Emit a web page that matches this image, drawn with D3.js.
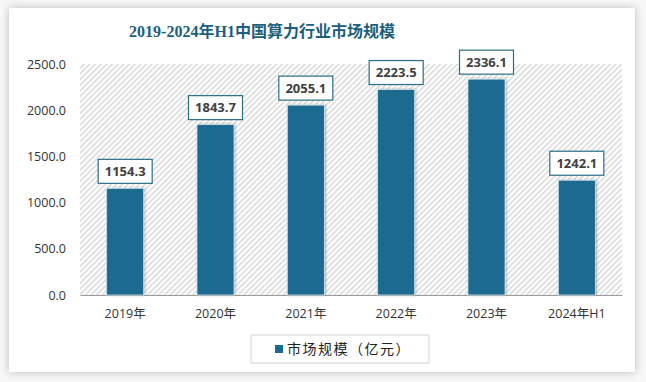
<!DOCTYPE html>
<html><head><meta charset="utf-8">
<script src="https://cdn.jsdelivr.net/npm/d3@7"></script>
<style>body{margin:0;background:#fff;}svg{display:block;}</style>
</head><body>
<script>
const categories = ["2019年","2020年","2021年","2022年","2023年","2024年H1"];
const values = [1154.3, 1843.7, 2055.1, 2223.5, 2336.1, 1242.1];
const yTicks = [0, 500, 1000, 1500, 2000, 2500];
const title = "2019-2024年H1中国算力行业市场规模";
const seriesName = "市场规模（亿元）";

const W = 646, H = 382;
const svg = d3.select("body").append("svg").attr("width", W).attr("height", H);
const defs = svg.append("defs");

// outer shadowed frame
const f = defs.append("filter").attr("id","sh").attr("x","-5%").attr("y","-5%").attr("width","110%").attr("height","110%");
f.append("feGaussianBlur").attr("in","SourceAlpha").attr("stdDeviation",4);
f.append("feComponentTransfer").append("feFuncA").attr("type","linear").attr("slope",0.25);
const fm = f.append("feMerge"); fm.append("feMergeNode"); fm.append("feMergeNode").attr("in","SourceGraphic");
svg.append("rect").attr("x",0).attr("y",0).attr("width",W).attr("height",H).attr("fill","#f7f7f7");
svg.append("rect").attr("x",9).attr("y",8).attr("width",626).attr("height",364).attr("fill","#fff").attr("filter","url(#sh)");

// hatch pattern
const pat = defs.append("pattern").attr("id","hatch").attr("patternUnits","userSpaceOnUse")
  .attr("width",4).attr("height",4).attr("patternTransform","rotate(45)");
pat.append("rect").attr("width",4).attr("height",4).attr("fill","#fff");
pat.append("rect").attr("width",1.6).attr("height",4).attr("fill","#d9d9d9");

const m = {l:80, r:24, t:64, b:87};
const x = d3.scaleBand().domain(categories).range([m.l, W - m.r]).paddingInner(0.59).paddingOuter(0.295);
const y = d3.scaleLinear().domain([0, 2500]).range([H - m.b, m.t]);

svg.append("rect").attr("x", m.l).attr("y", m.t).attr("width", W - m.r - m.l).attr("height", y(0) - m.t).attr("fill","url(#hatch)");

// title
svg.append("text").attr("x", 262).attr("y", 37).attr("text-anchor","middle")
  .attr("font-family","'Liberation Serif','Noto Sans CJK SC',serif")
  .attr("font-weight","bold").attr("font-size",16).attr("fill","#1d5e7c").text(title);

// y axis
const ya = svg.append("g").attr("transform",`translate(${m.l},0)`)
  .call(d3.axisLeft(y).tickValues(yTicks).tickSize(0).tickPadding(14).tickFormat(d3.format(".1f")));
ya.select(".domain").remove();
ya.selectAll("text").attr("font-family","'Open Sans','DejaVu Sans',sans-serif").attr("font-size",12.5).attr("fill","#333");

// x axis
const xa = svg.append("g").attr("transform",`translate(0,${y(0)})`)
  .call(d3.axisBottom(x).tickSize(0).tickPadding(14));
xa.select(".domain").attr("stroke","#9a9a9a");
xa.selectAll("text").attr("font-family","'Open Sans','Noto Sans CJK SC',sans-serif").attr("font-size",12.5).attr("fill","#333");

// bar shadow
const bf = defs.append("filter").attr("id","bs").attr("x","-20%").attr("y","-5%").attr("width","140%").attr("height","110%");
bf.append("feDropShadow").attr("dx",1).attr("dy",0).attr("stdDeviation",1.2).attr("flood-color","#000").attr("flood-opacity",0.3);

svg.append("g").selectAll("rect").data(values).join("rect")
  .attr("x",(d,i)=>x(categories[i])).attr("y",d=>y(d))
  .attr("width",x.bandwidth()).attr("height",d=>y(0)-y(d))
  .attr("fill","#1b6a8f").attr("stroke","#cfe3ea").attr("stroke-width",0.8).attr("filter","url(#bs)");

// labels
const lw = 54, lh = 24;
const lg = svg.append("g").selectAll("g").data(values).join("g")
  .attr("transform",(d,i)=>`translate(${x(categories[i]) + x.bandwidth()/2},${y(d) - 5 - lh/2})`);
lg.append("rect").attr("x",-lw/2).attr("y",-lh/2).attr("width",lw).attr("height",lh)
  .attr("fill","#fff").attr("stroke","#2a6d8a").attr("stroke-width",1.2);
lg.append("text").attr("text-anchor","middle").attr("dy","0.36em")
  .attr("font-family","'Open Sans','DejaVu Sans',sans-serif").attr("font-weight","bold").attr("font-size",13).attr("fill","#404040")
  .text(d=>d3.format(".1f")(d));

// legend
const leg = svg.append("g");
leg.append("rect").attr("x",251).attr("y",335).attr("width",178).attr("height",28).attr("fill","#fff").attr("stroke","#d4d4d4");
leg.append("rect").attr("x",275).attr("y",345).attr("width",8).attr("height",8).attr("fill","#1b6a8f");
leg.append("text").attr("x",287).attr("y",354).attr("font-family","'Noto Sans CJK SC',sans-serif").attr("font-size",14).attr("fill","#222")
  .attr("letter-spacing",1.5).text(seriesName);
</script>
</body></html>
